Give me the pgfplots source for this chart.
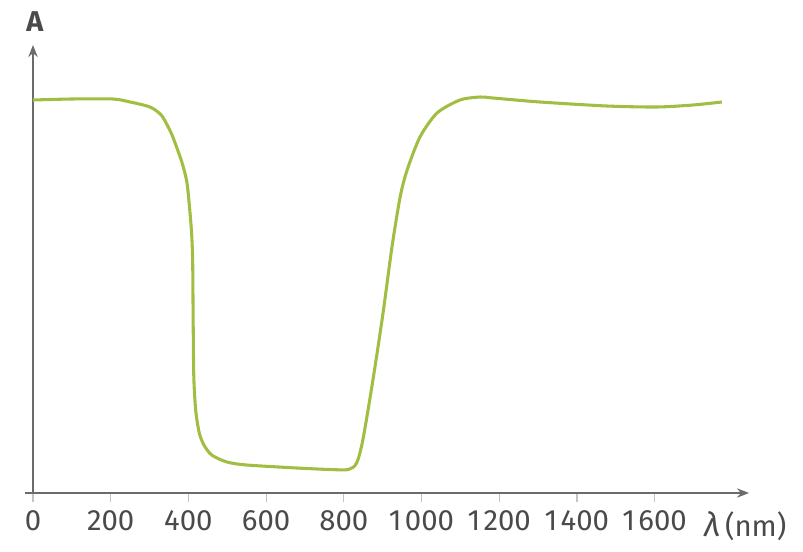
\documentclass[border=0pt]{standalone}
\usepackage{fontspec}
\setmainfont{Fira Sans}
\usepackage{pgfplots}
\pgfplotsset{compat=1.18}
\usetikzlibrary{arrows.meta}
\definecolor{curve}{HTML}{A2BE42}
\definecolor{axgray}{HTML}{6B6B6B}
\definecolor{tickgray}{HTML}{C4C4C4}
\definecolor{labgray}{HTML}{4A4A4A}
\begin{document}
\begin{tikzpicture}
\path[use as bounding box] (-18.75pt,-43.5pt) rectangle (583.5pt,369.75pt);
\begin{axis}[
  at={(0pt,0pt)}, anchor=south west,
  scale only axis, width=543pt, height=336pt,
  xmin=-20.6, xmax=1843, ymin=0, ymax=448,
  axis x line=bottom, axis y line=middle,
  axis line style={draw=axgray, line width=1.5pt, -{Stealth[length=9pt,width=7pt]}},
  xtick={0,200,...,1600}, ytick=\empty,
  xticklabels={0,200,400,600,800,{1\kern2.5pt000},{1\kern2.5pt200},{1\kern2.5pt400},{1\kern2.5pt600}},
  tick align=outside, major tick length=6.75pt,
  xtick style={draw=tickgray, line width=0.9pt},
  tick label style={font=\fontsize{22}{24}\selectfont, text=labgray},
  xticklabel style={yshift=-3pt},
  clip=false,
]
\addplot[curve, line width=2.3pt, smooth, tension=0.45] coordinates {
(0,393) (100,394) (206,394) (250,391) (301,386) (330,378) (348,366) (361,355)
(383,331) (396,311) (404,281) (408.5,258) (411,231) (412.3,170) (414,115)
(419,82) (428,60) (440,48) (460,38) (499,31) (550,28) (679,25) (764,23.5) (812,23.5)
(833,30) (849,53) (875,113) (901,180) (924,246) (945,296) (963,323)
(996,356) (1040,380) (1099,393) (1151,396) (1184,395) (1305,391) (1477,387)
(1606,386) (1699,388) (1773,391)
};
\node[font=\fontsize{21.5}{24}\selectfont\bfseries, text=labgray] at (axis cs:5,471) {A};
\node[font=\fontsize{22}{24}\selectfont, text=labgray] at (axis cs:1833,-33) {{\fontsize{25}{26}\selectfont\textit{λ}}\,(nm)};
\end{axis}
\end{tikzpicture}
\end{document}
